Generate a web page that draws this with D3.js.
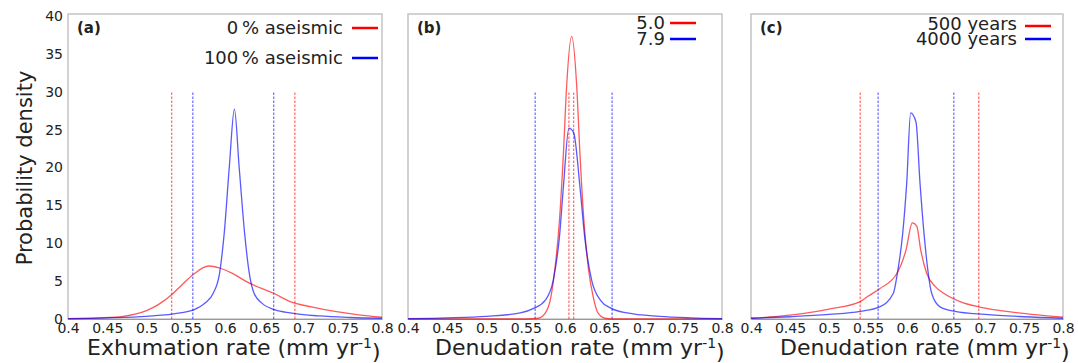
<!DOCTYPE html>
<html>
<head>
<meta charset="utf-8">
<script src="https://cdn.jsdelivr.net/npm/d3@7"></script>
<style>
  body { margin: 0; background: #fff; }
  text { font-family: "DejaVu Sans", Verdana, sans-serif; fill: #222; }
</style>
</head>
<body>
<div id="main"></div>
<script>
// tick values
const xTickValues = [0.4, 0.45, 0.5, 0.55, 0.6, 0.65, 0.7, 0.75, 0.8];
const yTickValues = [0, 5, 10, 15, 20, 25, 30, 35, 40];

// (a) exhumation rate, 0 % vs 100 % aseismic
const aRed = [[0.40,0.05],[0.44,0.15],[0.47,0.35],[0.50,1.1],[0.515,1.9],[0.532,3.2],[0.545,4.5],[0.560,5.9],
  [0.579,7.0],[0.594,6.7],[0.61,6.0],[0.628,4.9],[0.645,4.1],[0.662,3.4],[0.683,2.3],[0.71,1.6],[0.74,1.0],[0.77,0.55],[0.80,0.25]];
const aBlue = [[0.40,0.05],[0.45,0.15],[0.50,0.35],[0.543,0.8],[0.560,1.2],[0.5745,2.1],[0.585,3.4],[0.593,6.0],
  [0.599,11.3],[0.6055,20.1],[0.612,27.7],[0.618,20.1],[0.625,11.3],[0.631,6.0],[0.637,3.4],[0.647,2.1],[0.664,1.2],
  [0.683,0.8],[0.72,0.4],[0.76,0.2],[0.80,0.1]];
const aRedCI = [0.532, 0.689];
const aBlueCI = [0.559, 0.662];

// (b) denudation rate, 5.0 vs 7.9
const bRed = [[0.40,0],[0.55,0],[0.566,0.1],[0.575,0.8],[0.582,2.9],[0.587,6.5],[0.593,13.1],[0.598,21.9],[0.602,30.6],
  [0.6085,37.3],[0.615,30.6],[0.619,21.9],[0.624,13.1],[0.630,6.5],[0.636,2.9],[0.642,0.8],[0.651,0.1],[0.66,0],[0.80,0]];
const bBlue = [[0.40,0.05],[0.45,0.15],[0.50,0.35],[0.543,0.8],[0.56,1.4],[0.575,2.5],[0.585,5.1],[0.593,10.9],
  [0.598,17.5],[0.605,25.2],[0.611,24.6],[0.619,17.5],[0.625,10.9],[0.634,5.1],[0.645,2.5],[0.659,1.4],[0.679,0.8],
  [0.72,0.35],[0.76,0.15],[0.80,0.05]];
const bRedCI = [0.605, 0.611];
const bBlueCI = [0.562, 0.660];

// (c) denudation rate, 500 vs 4000 years
const cRed = [[0.40,0.1],[0.45,0.5],[0.50,1.3],[0.54,2.3],[0.55,3.0],[0.565,4.0],[0.587,6.0],[0.5987,9.1],[0.6068,12.7],
  [0.6124,12.3],[0.6176,9.1],[0.6253,6.0],[0.636,4.3],[0.647,3.4],[0.668,2.3],[0.692,1.6],[0.72,1.1],[0.76,0.6],[0.80,0.25]];
const cBlue = [[0.40,0.1],[0.45,0.3],[0.50,0.6],[0.54,1.0],[0.565,1.6],[0.5825,3.4],[0.5876,6.0],[0.5945,11.3],
  [0.5996,17.9],[0.6047,27.2],[0.6115,26.0],[0.6167,17.9],[0.6218,11.3],[0.6273,6.0],[0.6316,3.4],[0.6423,1.6],
  [0.6615,1.0],[0.70,0.6],[0.75,0.3],[0.80,0.1]];
const cRedCI = [0.540, 0.692];
const cBlueCI = [0.563, 0.660];
const ciTop = 30;

const panelTags = ["(a)", "(b)", "(c)"];
const legendLabels = [["0\u2009% aseismic", "100\u2009% aseismic"], ["5.0", "7.9"], ["500 years", "4000 years"]];
const xTitles = ["Exhumation rate", "Denudation rate", "Denudation rate"];
const yTitle = "Probability density";

const ctx = {
    w: 1078,
    h: 363,
    top: 14,
    bottom: 319,
    panelX: [[68, 382], [408, 722], [751, 1063]],
    legend: [
        { textRight: 343, x0: 352, x1: 378, ys: [28, 58] },
        { textRight: 665, x0: 670, x1: 696, ys: [23, 39] },
        { textRight: 1017, x0: 1025, x1: 1051, ys: [24, 39] }
    ],
    titleX: [87, 435, 780],
    red: "#ff0000",
    blue: "#0000ff",
    frame: "#c4c4c4"
};

const panels = [
    { red: aRed, blue: aBlue, redCI: aRedCI, blueCI: aBlueCI },
    { red: bRed, blue: bBlue, redCI: bRedCI, blueCI: bBlueCI },
    { red: cRed, blue: cBlue, redCI: cRedCI, blueCI: cBlueCI }
];

const yScale = d3.scaleLinear().domain([0, 40]).range([ctx.bottom, 16]);

function drawPanel(svg, p, i) {
    const xScale = d3.scaleLinear().domain([0.4, 0.8]).range(ctx.panelX[i]);
    const g = svg.append("g");
    const x0 = ctx.panelX[i][0], x1 = ctx.panelX[i][1];

    // frame
    g.append("rect")
        .attr("x", x0).attr("y", ctx.top)
        .attr("width", x1 - x0).attr("height", ctx.bottom - ctx.top)
        .attr("fill", "none")
        .attr("stroke", ctx.frame)
        .attr("stroke-width", 1.5);

    // x axis (labels only)
    const xAxis = d3.axisBottom(xScale).tickValues(xTickValues).tickSize(0).tickPadding(4).tickFormat(d => d);
    const ax = g.append("g").attr("transform", `translate(0, ${ctx.bottom})`).call(xAxis);
    ax.select(".domain").attr("stroke", "#999").attr("stroke-width", 1.2);
    ax.selectAll("text").style("font-size", "14px").style("font-family", "DejaVu Sans").attr("fill", "#333");

    if (i === 0) {
        const yAxis = d3.axisLeft(yScale).tickValues(yTickValues).tickSize(0).tickPadding(5);
        const ay = g.append("g").attr("transform", `translate(${x0}, 0)`).call(yAxis);
        ay.select(".domain").remove();
        ay.selectAll("text").style("font-size", "14px").style("font-family", "DejaVu Sans").attr("fill", "#333");
    }

    // credible intervals (dashed)
    const ci = [];
    p.redCI.forEach(v => ci.push({ v: v, c: ctx.red }));
    p.blueCI.forEach(v => ci.push({ v: v, c: ctx.blue }));
    g.selectAll(".ci").data(ci).enter().append("line")
        .attr("x1", d => xScale(d.v)).attr("x2", d => xScale(d.v))
        .attr("y1", yScale(0)).attr("y2", yScale(ciTop))
        .attr("stroke", d => d.c)
        .attr("stroke-opacity", 0.55)
        .attr("stroke-width", 1.3)
        .attr("stroke-dasharray", "2.5,1.5");

    // density curves
    const line = d3.line()
        .x(d => xScale(d[0]))
        .y(d => yScale(d[1]))
        .curve(d3.curveMonotoneX);
    [[p.red, ctx.red], [p.blue, ctx.blue]].forEach(s => {
        g.append("path")
            .datum(s[0])
            .attr("d", line)
            .attr("fill", "none")
            .attr("stroke", s[1])
            .attr("stroke-opacity", 0.65)
            .attr("stroke-width", 1.3);
    });

    // panel tag
    g.append("text")
        .attr("x", x0 + 9).attr("y", 33)
        .style("font-size", "15px")
        .style("font-weight", "bold")
        .text(panelTags[i]);

    // legend
    const lg = ctx.legend[i];
    legendLabels[i].forEach((lab, k) => {
        g.append("text")
            .attr("x", lg.textRight).attr("y", lg.ys[k])
            .attr("dy", "0.35em")
            .attr("text-anchor", "end")
            .style("font-size", "18px")
            .text(lab);
        g.append("line")
            .attr("x1", lg.x0).attr("x2", lg.x1)
            .attr("y1", lg.ys[k] + (i === 2 && k === 0 ? 2 : 0))
            .attr("y2", lg.ys[k] + (i === 2 && k === 0 ? 2 : 0))
            .attr("stroke", k === 0 ? ctx.red : ctx.blue)
            .attr("stroke-width", 2.5);
    });

    // x title with superscript
    const t = g.append("text")
        .attr("x", ctx.titleX[i]).attr("y", 355)
        .style("font-size", "22px");
    t.append("tspan").text(xTitles[i] + " (mm yr");
    t.append("tspan").attr("dy", "-0.5em").style("font-size", "14px").text("-1");
    t.append("tspan").attr("dy", "0.5em").text(")");
}

function createViz() {
    const svg = d3.select("#main").append("svg")
        .attr("width", ctx.w)
        .attr("height", ctx.h);
    panels.forEach((p, i) => drawPanel(svg, p, i));

    svg.append("text")
        .attr("transform", "translate(32, 168) rotate(-90)")
        .attr("text-anchor", "middle")
        .style("font-size", "21px")
        .text(yTitle);
}

createViz();
</script>
</body>
</html>
